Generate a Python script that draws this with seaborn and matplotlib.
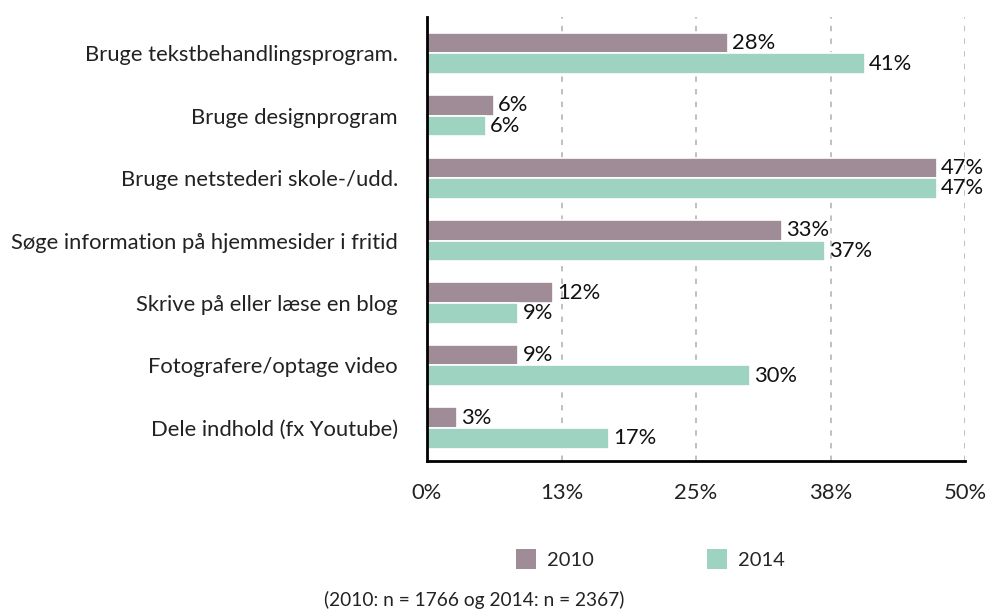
import matplotlib
matplotlib.use("Agg")
import matplotlib.pyplot as plt
import seaborn as sns
import pandas as pd
from matplotlib.ticker import FixedLocator
from matplotlib.patches import Patch

categories = [
    "Bruge tekstbehandlingsprogram.",
    "Bruge designprogram",
    "Bruge netstederi skole-/udd.",
    "Søge information på hjemmesider i fritid",
    "Skrive på eller læse en blog",
    "Fotografere/optage video",
    "Dele indhold (fx Youtube)",
]
values_2010 = [28, 6.2, 47.4, 33, 11.7, 8.5, 2.8]
values_2014 = [40.7, 5.5, 47.4, 37, 8.5, 30, 16.9]
labels_2010 = ["28%", "6%", "47%", "33%", "12%", "9%", "3%"]
labels_2014 = ["41%", "6%", "47%", "37%", "9%", "30%", "17%"]
series = ["2010", "2014"]
tick_values = [0, 12.5, 25, 37.5, 50]
tick_labels = ["0%", "13%", "25%", "38%", "50%"]
colors = ["#a08c97", "#9ed3c1"]

sns.set_style("white")
plt.rcParams['font.family'] = ['Lato', 'DejaVu Sans']
FS = 15.8

df = pd.DataFrame({
    "cat": categories * 2,
    "val": values_2010 + values_2014,
    "year": [series[0]] * len(categories) + [series[1]] * len(categories),
})

fig = plt.figure(figsize=(9.86, 6.13), dpi=100)
ax = fig.add_axes([427/986, 1 - 461/613, (965-427)/986, (461-17)/613])

sns.barplot(data=df, y="cat", x="val", hue="year", orient="h",
            palette=colors, width=0.66, ax=ax, legend=False,
            edgecolor="white", linewidth=1.2, saturation=1)

ax.set_xlim(0, 50)
ax.set_ylim(6.53, -0.58)
ax.set_xlabel("")
ax.set_ylabel("")
ax.xaxis.set_major_locator(FixedLocator(tick_values))
ax.set_xticklabels(tick_labels, fontsize=FS, color="#222222")
ax.xaxis.set_minor_locator(FixedLocator([6.25, 18.75, 31.25, 43.75]))
ax.tick_params(axis="x", which="major", length=6, width=2, direction="out", pad=10, color="black")
ax.tick_params(axis="x", which="minor", length=6, width=2, direction="out", color="black")
ax.tick_params(axis="y", length=0, pad=21, labelsize=FS, labelcolor="#222222")
ax.grid(axis="x", which="major", linestyle=(0, (3, 4)), color="#bbbbbb", linewidth=1.3)
ax.set_axisbelow(True)
for s in ["top", "right"]:
    ax.spines[s].set_visible(False)
ax.spines["left"].set_linewidth(2)
ax.spines["bottom"].set_linewidth(2)
ax.spines["left"].set_color("black")
ax.spines["bottom"].set_color("black")

for cont, labs in zip(ax.containers, [labels_2010, labels_2014]):
    ax.bar_label(cont, labels=labs, padding=3, fontsize=FS, color="#111111")

handles = [Patch(facecolor=c, edgecolor="none") for c in colors]
fig.legend(handles, series, loc="center", bbox_to_anchor=(0.66, 1 - 559/613),
           ncol=2, frameon=False, fontsize=14.5, handlelength=1.0, handleheight=1.1,
           columnspacing=5.6, handletextpad=0.55, borderpad=0, borderaxespad=0)
fig.text(0.481, 1 - 600/613, "(2010: n = 1766 og 2014: n = 2367)", ha="center", va="center",
         fontsize=13.8, color="#222222")

fig.savefig("out.png", dpi=100)
